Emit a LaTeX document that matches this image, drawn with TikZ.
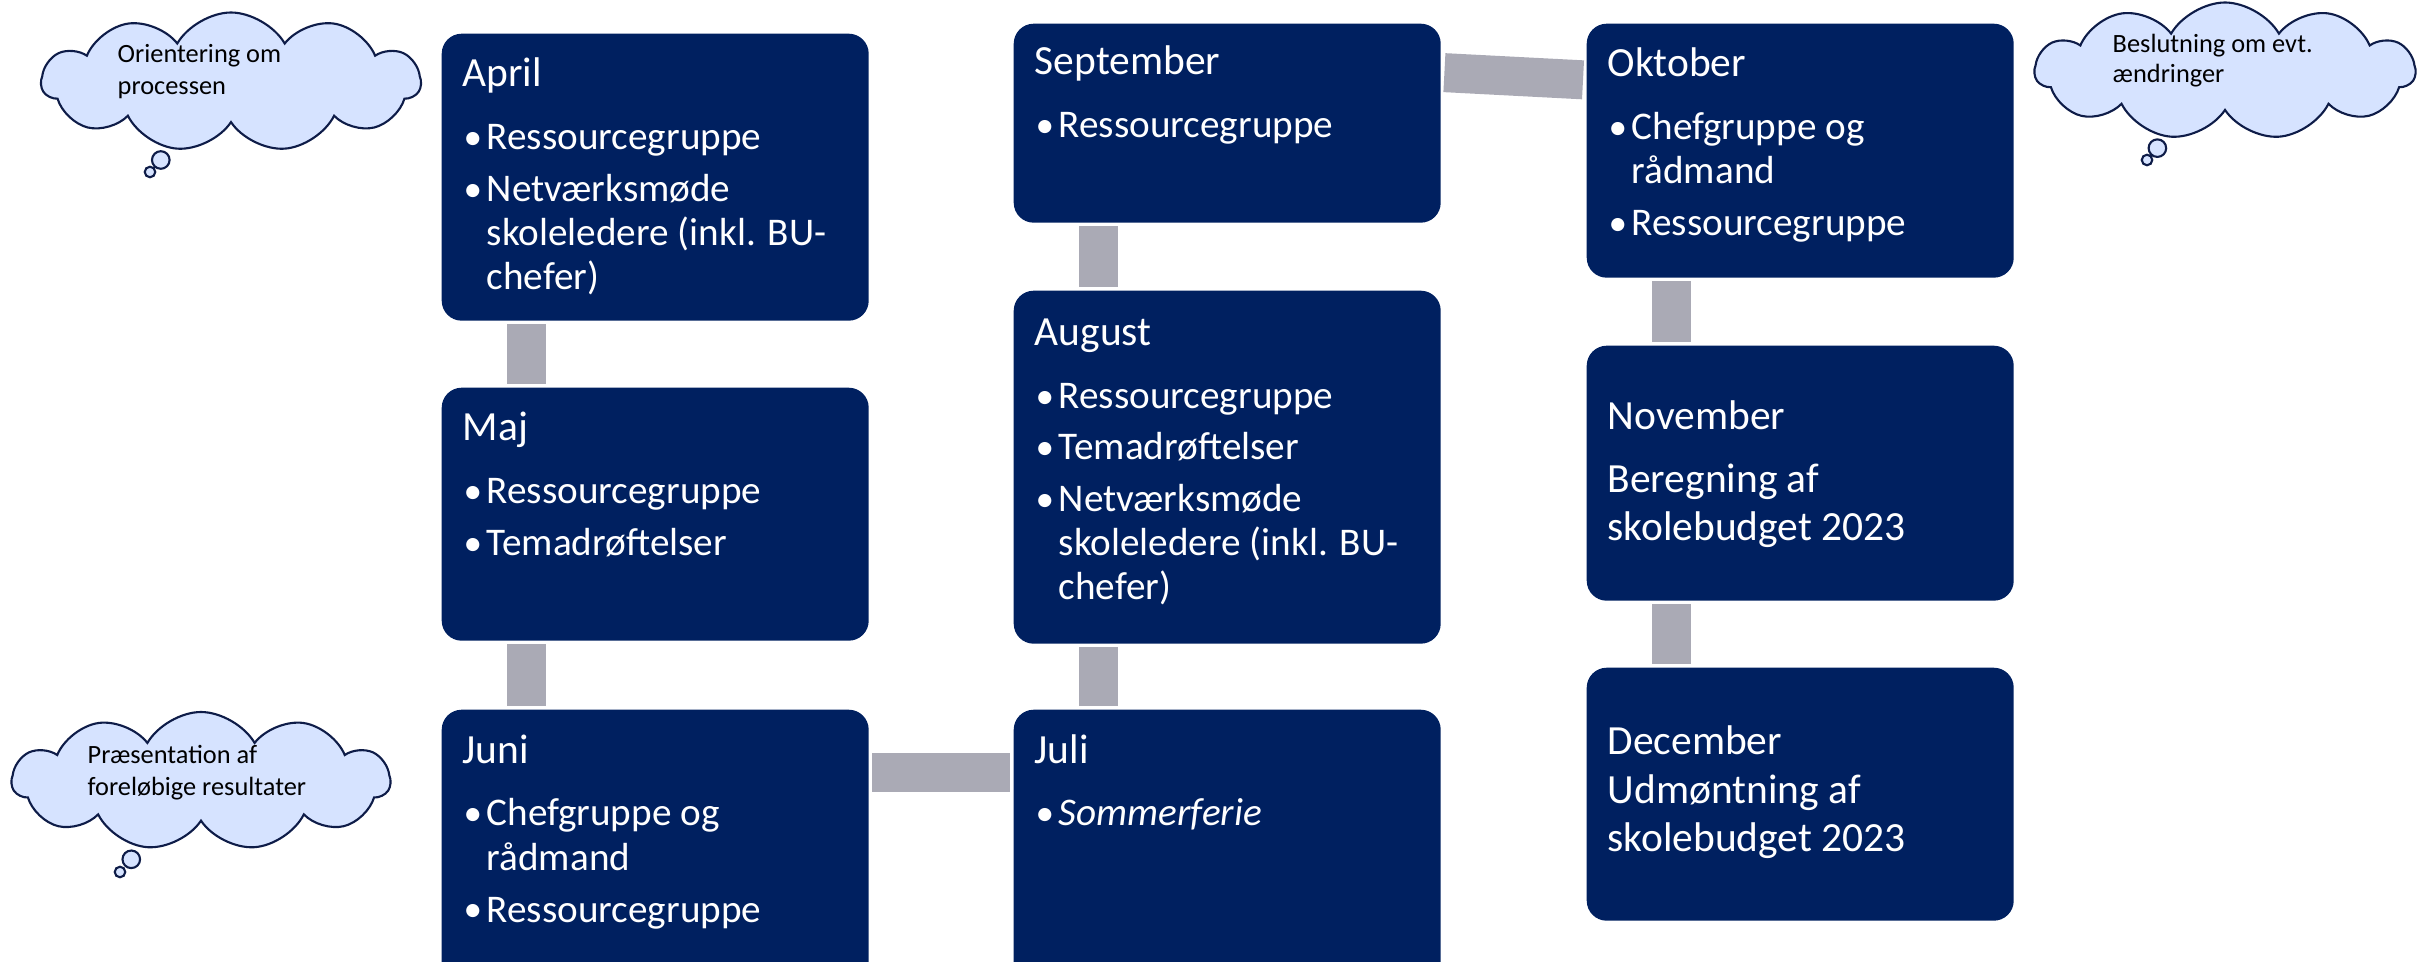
\documentclass[tikz,border=0pt]{standalone}
\usepackage{fontspec}
\setmainfont{Carlito}
\definecolor{plannavy}{RGB}{0,32,96}
\definecolor{plangray}{RGB}{170,170,181}
\definecolor{cloudblue}{RGB}{214,227,255}
\definecolor{cloudline}{RGB}{14,28,72}
\usetikzlibrary{shapes,positioning,calc}

\tikzset{
  month/.style={fill=plannavy, rounded corners=0.2cm, minimum width=4.27cm, anchor=north west, inner sep=0},
  link/.style={draw=plangray, line width=0.39cm, shorten <=0.03cm, shorten >=0.03cm},
  ttl/.style={text=white, anchor=base west, inner sep=0, font=\fontsize{11.8}{14}\selectfont},
  itm/.style={text=white, anchor=base west, inner sep=0, font=\fontsize{11.15}{13}\selectfont},
  note/.style={cloud callout, cloud puffs=11, cloud puff arc=120, cloud ignores aspect, fill=cloudblue,
    draw=cloudline, line width=0.6pt, callout pointer start size=7pt, callout pointer end size=3pt, inner sep=0},
  notetxt/.style={anchor=base west, inner sep=0, font=\fontsize{7.5}{9}\selectfont}
}
\newcommand{\bul}{\makebox[0.22cm][l]{\hspace{-0.01cm}\raisebox{0.2pt}{\scalebox{0.95}{•}}}}

\begin{document}
\begin{tikzpicture}
    \useasboundingbox (0,0) rectangle (24.28,-9.62);
    \clip (0,0) rectangle (24.28,-9.62);

    % month boxes
    \node[month, minimum height=2.87cm] (apr) at (4.41,-0.33) {};
    \node[month, minimum height=2.53cm] (maj) at (4.41,-3.87) {};
    \node[month, minimum height=2.90cm] (jun) at (4.41,-7.09) {};
    \node[month, minimum height=1.99cm] (sep) at (10.13,-0.23) {};
    \node[month, minimum height=3.53cm] (aug) at (10.13,-2.90) {};
    \node[month, minimum height=2.90cm] (jul) at (10.13,-7.09) {};
    \node[month, minimum height=2.54cm] (okt) at (15.86,-0.23) {};
    \node[month, minimum height=2.55cm] (nov) at (15.86,-3.45) {};
    \node[month, minimum height=2.53cm] (dec) at (15.86,-6.67) {};

    % gray links
    \draw[link] ([xshift=0.855cm]apr.south west) -- ([xshift=0.855cm]maj.north west);
    \draw[link] ([xshift=0.855cm]maj.south west) -- ([xshift=0.855cm]jun.north west);
    \draw[link] ([yshift=-0.63cm]jun.north east) -- ([yshift=-0.63cm]jul.north west);
    \draw[link] ([xshift=0.855cm]jul.north west) -- ([xshift=0.855cm]aug.south west);
    \draw[link] ([xshift=0.855cm]aug.north west) -- ([xshift=0.855cm]sep.south west);
    \draw[link] ([yshift=-0.495cm]sep.north east) -- ([yshift=-0.57cm]okt.north west);
    \draw[link] ([xshift=0.85cm]okt.south west) -- ([xshift=0.85cm]nov.north west);
    \draw[link] ([xshift=0.85cm]nov.south west) -- ([xshift=0.85cm]dec.north west);

    % April
    \node[ttl] (apr-t) at (4.62,-0.87) {April};
    \node[itm] (apr-1) at (4.64,-1.50) {\bul Ressourcegruppe};
    \node[itm] (apr-2) at (4.64,-2.02) {\bul Netværksmøde};
    \node[itm] (apr-3) at (4.86,-2.46) {skoleledere (inkl. BU-};
    \node[itm] (apr-4) at (4.86,-2.90) {chefer)};

    % Maj
    \node[ttl] (maj-t) at (4.62,-4.41) {Maj};
    \node[itm] (maj-1) at (4.64,-5.04) {\bul Ressourcegruppe};
    \node[itm] (maj-2) at (4.64,-5.56) {\bul Temadrøftelser};

    % Juni
    \node[ttl] (jun-t) at (4.62,-7.63) {Juni};
    \node[itm] (jun-1) at (4.64,-8.26) {\bul Chefgruppe og};
    \node[itm] (jun-2) at (4.86,-8.70) {rådmand};
    \node[itm] (jun-3) at (4.64,-9.22) {\bul Ressourcegruppe};

    % September
    \node[ttl] (sep-t) at (10.34,-0.75) {September};
    \node[itm] (sep-1) at (10.36,-1.38) {\bul Ressourcegruppe};

    % August
    \node[ttl] (aug-t) at (10.34,-3.46) {August};
    \node[itm] (aug-1) at (10.36,-4.09) {\bul Ressourcegruppe};
    \node[itm] (aug-2) at (10.36,-4.60) {\bul Temadrøftelser};
    \node[itm] (aug-3) at (10.36,-5.12) {\bul Netværksmøde};
    \node[itm] (aug-4) at (10.58,-5.56) {skoleledere (inkl. BU-};
    \node[itm] (aug-5) at (10.58,-6.00) {chefer)};

    % Juli
    \node[ttl] (jul-t) at (10.34,-7.63) {Juli};
    \node[itm] (jul-1) at (10.36,-8.26) {\bul\textit{Sommerferie}};

    % Oktober
    \node[ttl] (okt-t) at (16.07,-0.77) {Oktober};
    \node[itm] (okt-1) at (16.09,-1.40) {\bul Chefgruppe og};
    \node[itm] (okt-2) at (16.31,-1.84) {rådmand};
    \node[itm] (okt-3) at (16.09,-2.36) {\bul Ressourcegruppe};

    % November
    \node[ttl] (nov-t) at (16.07,-4.30) {November};
    \node[ttl] (nov-1) at (16.07,-4.93) {Beregning af};
    \node[ttl] (nov-2) at (16.07,-5.41) {skolebudget 2023};

    % December
    \node[ttl] (dec-t) at (16.07,-7.55) {December};
    \node[ttl] (dec-1) at (16.07,-8.03) {Udmøntning af};
    \node[ttl] (dec-2) at (16.07,-8.51) {skolebudget 2023};

    % thought clouds
    \node[note, minimum width=3.79cm, minimum height=1.39cm, callout absolute pointer={(1.50,-1.72)}] (orient) at (2.31,-0.82) {};
    \node[notetxt] (orient-1) at (1.17,-0.63) {Orientering om};
    \node[notetxt] (orient-2) at (1.17,-0.95) {processen};

    \node[note, minimum width=3.78cm, minimum height=1.38cm, callout absolute pointer={(1.20,-8.72)}] (praes) at (2.01,-7.81) {};
    \node[notetxt] (praes-1) at (0.87,-7.63) {Præsentation af};
    \node[notetxt] (praes-2) at (0.87,-7.95) {foreløbige resultater};

    \node[note, minimum width=3.80cm, minimum height=1.37cm, callout absolute pointer={(21.47,-1.60)}] (beslut) at (22.25,-0.71) {};
    \node[notetxt] (beslut-1) at (21.12,-0.53) {Beslutning om evt.};
    \node[notetxt] (beslut-2) at (21.12,-0.83) {ændringer};
\end{tikzpicture}
\end{document}
